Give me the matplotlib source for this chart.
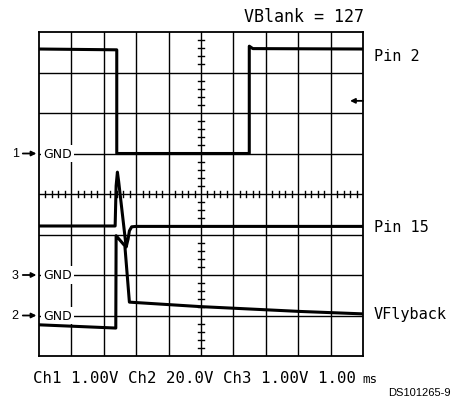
import numpy as np
import matplotlib
matplotlib.use("Agg")
import matplotlib.pyplot as plt

# scope traces, in screen divisions (x: 0..10, y: -4..4)
pin2_x = [0.0, 2.40, 2.40, 6.49, 6.49, 6.60, 10.0]
pin2_y = [3.58, 3.56, 1.00, 1.00, 3.65, 3.59, 3.58]

pin15_x = [0.0, 2.35, 2.38, 2.42, 2.46, 2.69, 2.75, 2.79, 2.86, 3.0, 10.0]
pin15_y = [-0.79, -0.79, 0.20, 0.54, 0.30, -1.31, -1.11, -0.91, -0.81, -0.80, -0.80]

flyback_x = [0.0, 2.37, 2.38, 2.65, 2.79, 4.97, 8.06, 10.0]
flyback_y = [-3.23, -3.31, -1.03, -1.28, -2.67, -2.78, -2.90, -2.96]

gnd_levels = {"1": 1.0, "3": -2.0, "2": -3.0}
trigger_level = 2.3

W, H = 457, 402
fig = plt.figure(figsize=(W / 100, H / 100), dpi=100)
ax = fig.add_axes([39 / W, (H - 357) / H, 324 / W, 324 / H])
ax.set_xlim(0, 10)
ax.set_ylim(-4, 4)
ax.set_xticks([])
ax.set_yticks([])
for s in ax.spines.values():
    s.set_linewidth(1.3)
    s.set_zorder(5)

# graticule
for gx in range(1, 10):
    ax.axvline(gx, color="black", lw=1.0, zorder=1)
for gy in range(-3, 4):
    ax.axhline(gy, color="black", lw=1.0, zorder=1)

# minor ticks on the centre lines
for t in np.arange(0, 10.01, 0.2):
    if abs(t - round(t)) > 1e-6:
        ax.plot([t, t], [-0.075, 0.075], color="black", lw=1.0, zorder=1)
for t in np.arange(-4, 4.01, 0.2):
    if abs(t - round(t)) > 1e-6:
        ax.plot([4.91, 5.09], [t, t], color="black", lw=1.0, zorder=1)

mono = "DejaVu Sans Mono"
ax.plot(pin2_x, pin2_y, color="black", lw=2.2, zorder=4)
ax.plot(pin15_x, pin15_y, color="black", lw=2.2, zorder=4)
ax.plot(flyback_x, flyback_y, color="black", lw=2.2, zorder=4)

# trigger level marker
ax.annotate("", xy=(9.6, trigger_level), xytext=(10.0, trigger_level),
            arrowprops=dict(arrowstyle="-|>", color="black", lw=1.3,
                            mutation_scale=7, shrinkA=0, shrinkB=0))

# ground markers
for ch, lvl in gnd_levels.items():
    ax.text(0.14, lvl, "GND", fontsize=9, family="Liberation Sans Narrow",
            va="center", ha="left", zorder=2,
            bbox=dict(facecolor="white", edgecolor="none", pad=1.5))
    ax.text(-0.63, lvl, ch, fontsize=9, family="Liberation Sans",
            va="center", ha="right", clip_on=False)
    ax.annotate("", xy=(-0.08, lvl), xytext=(-0.5, lvl),
                annotation_clip=False,
                arrowprops=dict(arrowstyle="-|>", color="black", lw=1.3,
                                mutation_scale=7, shrinkA=0, shrinkB=0))

# trace labels
ax.text(10.34, 3.42, "Pin 2", fontsize=11, family=mono, va="center", clip_on=False)
ax.text(10.34, -0.80, "Pin 15", fontsize=11, family=mono, va="center", clip_on=False)
ax.text(10.34, -2.96, "VFlyback", fontsize=11, family=mono, va="center", clip_on=False)

fig.text(364 / W, 1 - 17 / H, "VBlank = 127", fontsize=12, family=mono,
         ha="right", va="center")
fig.text(33 / W, 1 - 379 / H, "Ch1 1.00V Ch2 20.0V Ch3 1.00V 1.00", fontsize=11.3,
         family=mono, ha="left", va="center")
fig.text(362 / W, 1 - 380 / H, "ms", fontsize=9, family=mono, ha="left", va="center")
fig.text(451 / W, 1 - 393 / H, "DS101265-9", fontsize=8, family="Liberation Sans",
         ha="right", va="center")

fig.savefig("out.png", dpi=100)
